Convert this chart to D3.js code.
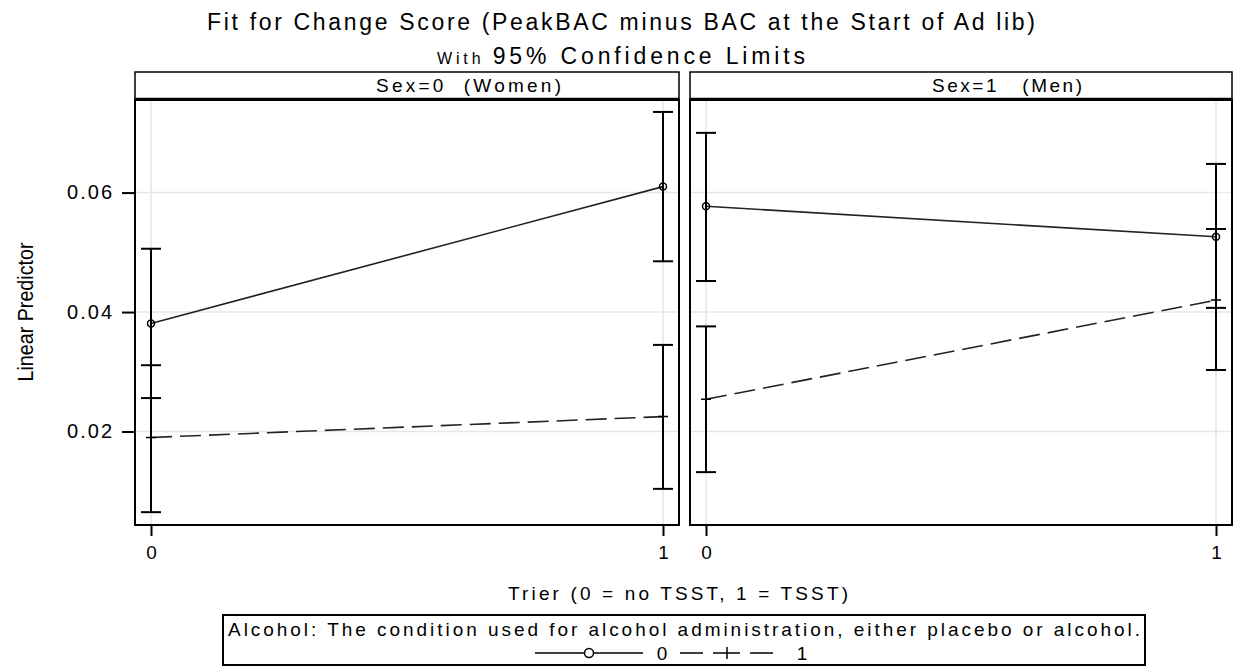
<!DOCTYPE html>
<html>
<head>
<meta charset="utf-8">
<script src="https://cdn.jsdelivr.net/npm/d3@7"></script>
<style>
  body { margin: 0; background: #fff; }
  svg text { font-family: "Liberation Sans", Arial, sans-serif; fill: #000; white-space: pre; }
</style>
</head>
<body>
<div id="viz"></div>
<script>
const trierLevels = [0, 1];
const sexLabels = ['Sex=0  (Women)', 'Sex=1   (Men)'];
const alcoholLevels = ['0', '1'];
const yTickValues = [0.02, 0.04, 0.06];
// [estimate, lower, upper] at Trier = 0 and Trier = 1
const womenAlc0 = [[0.0381, 0.0256, 0.0506], [0.0610, 0.0485, 0.0735]];
const womenAlc1 = [[0.0190, 0.0065, 0.0311], [0.0225, 0.0104, 0.0345]];
const menAlc0 = [[0.0577, 0.0452, 0.0700], [0.0526, 0.0407, 0.0648]];
const menAlc1 = [[0.0254, 0.0132, 0.0376], [0.0420, 0.0303, 0.0539]];

const width = 1237;
const height = 667;
const headerTop = 72;
const plotTop = 100;
const plotBottom = 525;

const panels = [
  { left: 135, right: 679, labelX: 376, labelW: 185, label: sexLabels[0], series: [womenAlc0, womenAlc1] },
  { left: 690, right: 1232, labelX: 932, labelW: 150, label: sexLabels[1], series: [menAlc0, menAlc1] }
];

const yScale = d3.scaleLinear()
  .domain([0.00435, 0.0755])
  .range([plotBottom, plotTop]);

const svg = d3.select('#viz')
  .append('svg')
  .attr('width', width)
  .attr('height', height);

// titles
svg.append('text')
  .attr('x', 207)
  .attr('y', 30)
  .attr('font-size', 23)
  .attr('textLength', 828)
  .attr('lengthAdjust', 'spacing')
  .text('Fit for Change Score (PeakBAC minus BAC at the Start of Ad lib)');

const sub = svg.append('text')
  .attr('x', 437)
  .attr('y', 64)
  .attr('font-size', 23)
  .attr('textLength', 368)
  .attr('lengthAdjust', 'spacing');
sub.append('tspan').attr('font-size', 16).text('With ');
sub.append('tspan').text('95% Confidence Limits');

panels.forEach((p) => {
  const xScale = d3.scaleLinear()
    .domain([0, 1])
    .range([p.left + 16, p.right - 16]);

  const g = svg.append('g');

  // grid
  g.selectAll('.hgrid').data(yTickValues).enter().append('line')
    .attr('x1', p.left).attr('x2', p.right)
    .attr('y1', (d) => yScale(d)).attr('y2', (d) => yScale(d))
    .attr('stroke', '#e6e6e6').attr('stroke-width', 1.5);
  g.selectAll('.vgrid').data(trierLevels).enter().append('line')
    .attr('x1', (d) => xScale(d)).attr('x2', (d) => xScale(d))
    .attr('y1', plotTop).attr('y2', plotBottom)
    .attr('stroke', '#e6e6e6').attr('stroke-width', 1.5);

  // fitted lines
  const line = d3.line()
    .x((d, i) => xScale(trierLevels[i]))
    .y((d) => yScale(d[0]));

  g.append('path')
    .datum(p.series[0])
    .attr('d', line)
    .attr('fill', 'none')
    .attr('stroke', '#222')
    .attr('stroke-width', 1.6);

  g.append('path')
    .datum(p.series[1])
    .attr('d', line)
    .attr('fill', 'none')
    .attr('stroke', '#222')
    .attr('stroke-width', 1.6)
    .attr('stroke-dasharray', '21,8');

  // confidence limits
  p.series.forEach((s) => {
    const bars = g.selectAll(null).data(s).enter().append('g');
    bars.append('line')
      .attr('x1', (d, i) => xScale(trierLevels[i])).attr('x2', (d, i) => xScale(trierLevels[i]))
      .attr('y1', (d) => yScale(d[1])).attr('y2', (d) => yScale(d[2]))
      .attr('stroke', '#000').attr('stroke-width', 2);
    [1, 2].forEach((k) => {
      bars.append('line')
        .attr('x1', (d, i) => xScale(trierLevels[i]) - 10).attr('x2', (d, i) => xScale(trierLevels[i]) + 10)
        .attr('y1', (d) => yScale(d[k])).attr('y2', (d) => yScale(d[k]))
        .attr('stroke', '#000').attr('stroke-width', 2);
    });
  });

  // markers: circle for alcohol 0, plus for alcohol 1
  g.selectAll(null).data(p.series[0]).enter().append('circle')
    .attr('cx', (d, i) => xScale(trierLevels[i]))
    .attr('cy', (d) => yScale(d[0]))
    .attr('r', 3.5)
    .attr('fill', 'none')
    .attr('stroke', '#000')
    .attr('stroke-width', 1.5);

  g.selectAll(null).data(p.series[1]).enter().append('path')
    .attr('d', (d, i) => {
      const cx = xScale(trierLevels[i]);
      const cy = yScale(d[0]);
      return `M${cx - 5},${cy}H${cx + 5}M${cx},${cy - 5}V${cy + 5}`;
    })
    .attr('stroke', '#000')
    .attr('stroke-width', 1.5);

  // frame and header
  g.append('rect')
    .attr('x', p.left).attr('y', plotTop)
    .attr('width', p.right - p.left).attr('height', plotBottom - plotTop)
    .attr('fill', 'none').attr('stroke', '#000').attr('stroke-width', 2);
  g.append('rect')
    .attr('x', p.left).attr('y', headerTop)
    .attr('width', p.right - p.left).attr('height', plotTop - headerTop)
    .attr('fill', 'none').attr('stroke', '#000').attr('stroke-width', 1.5);
  g.append('line')
    .attr('x1', p.left).attr('x2', p.right)
    .attr('y1', plotTop - 1).attr('y2', plotTop - 1)
    .attr('stroke', '#000').attr('stroke-width', 2.5);
  g.append('text')
    .attr('x', p.labelX)
    .attr('y', 92)
    .attr('font-size', 19)
    .attr('textLength', p.labelW)
    .attr('lengthAdjust', 'spacing')
    .text(p.label);

  // x axis
  const xAxis = svg.append('g')
    .attr('transform', `translate(0, ${plotBottom + 1})`)
    .call(d3.axisBottom(xScale).tickValues(trierLevels).tickFormat(d3.format('d')).tickSize(10).tickPadding(10));
  xAxis.select('.domain').remove();
  xAxis.selectAll('line').attr('stroke-width', 2);
  xAxis.selectAll('text').attr('font-size', 19).attr('font-family', '"Liberation Sans", Arial, sans-serif');
});

// y axis
const yAxis = svg.append('g')
  .attr('transform', `translate(${panels[0].left}, 0)`)
  .call(d3.axisLeft(yScale).tickValues(yTickValues).tickFormat(d3.format('.2f')).tickSize(13).tickPadding(10));
yAxis.select('.domain').remove();
yAxis.selectAll('line').attr('stroke-width', 2);
yAxis.selectAll('text')
  .attr('font-size', 20)
  .attr('font-family', '"Liberation Sans", Arial, sans-serif')
  .attr('textLength', 45)
  .attr('lengthAdjust', 'spacing');

svg.append('text')
  .attr('transform', 'translate(33, 312) rotate(-90)')
  .attr('text-anchor', 'middle')
  .attr('font-size', 22)
  .attr('textLength', 139)
  .attr('lengthAdjust', 'spacingAndGlyphs')
  .text('Linear Predictor');

svg.append('text')
  .attr('x', 508)
  .attr('y', 600)
  .attr('font-size', 19)
  .attr('textLength', 340)
  .attr('lengthAdjust', 'spacing')
  .text('Trier (0 = no TSST, 1 = TSST)');

// legend
const legend = svg.append('g');
legend.append('rect')
  .attr('x', 223).attr('y', 615)
  .attr('width', 922).attr('height', 50)
  .attr('fill', 'none').attr('stroke', '#000').attr('stroke-width', 2);
legend.append('text')
  .attr('x', 228)
  .attr('y', 636)
  .attr('font-size', 19)
  .attr('textLength', 912)
  .attr('lengthAdjust', 'spacing')
  .text('Alcohol: The condition used for alcohol administration, either placebo or alcohol.');

const rowY = 653;
legend.append('line')
  .attr('x1', 535).attr('x2', 643).attr('y1', rowY).attr('y2', rowY)
  .attr('stroke', '#000').attr('stroke-width', 1.5);
legend.append('circle')
  .attr('cx', 589).attr('cy', rowY).attr('r', 4.5)
  .attr('fill', '#fff').attr('stroke', '#000').attr('stroke-width', 1.5);
legend.append('text')
  .attr('x', 662).attr('y', 660).attr('text-anchor', 'middle').attr('font-size', 19)
  .text(alcoholLevels[0]);
legend.append('line')
  .attr('x1', 680).attr('x2', 773).attr('y1', rowY).attr('y2', rowY)
  .attr('stroke', '#000').attr('stroke-width', 1.5)
  .attr('stroke-dasharray', '23,10,27,10,23');
legend.append('path')
  .attr('d', `M727,${rowY - 6}V${rowY + 6}`)
  .attr('stroke', '#000').attr('stroke-width', 1.5);
legend.append('text')
  .attr('x', 802).attr('y', 660).attr('text-anchor', 'middle').attr('font-size', 19)
  .text(alcoholLevels[1]);
</script>
</body>
</html>
